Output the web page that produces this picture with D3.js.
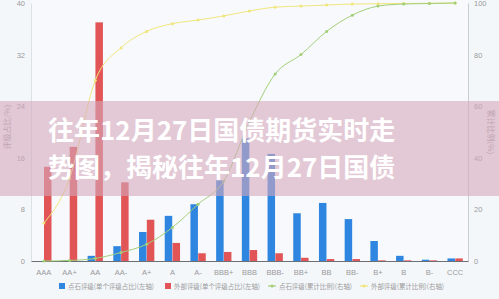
<!DOCTYPE html>
<html lang="zh">
<head>
<meta charset="UTF-8">
<title>评级分布</title>
<script src="https://d3js.org/d3.v7.min.js"></script>
<style>
  html, body { margin: 0; padding: 0; background: #f4f7fa; }
  svg { display: block; font-family: "Noto Sans CJK SC", "Noto Sans", sans-serif; }
  .tick text { fill: #9a9a9a; font-size: 7.5px; }
</style>
</head>
<body>
<svg id="chart" width="499" height="299"></svg>
<script>
// categories and series
const ratings = ["AAA","AA+","AA","AA-","A+","A","A-","BBB+","BBB","BBB-","BB+","BB","BB-","B+","B","B-","CCC"];
const dianshiShare = [0, 0.1, 0.8, 2.3, 4.5, 7, 8.8, 12.5, 19, 16.6, 7.4, 9, 6.5, 3.1, 0.8, 0.2, 0.4];
const externalShare = [14.6, 17.7, 37, 12.2, 6.4, 2.8, 1.2, 1.4, 1.7, 1.2, 0.5, 0.3, 0.3, 0.1, 0.1, 0.1, 0.4];
const dianshiCum = [0, 0.2, 1, 3.3, 6.5, 13, 22, 31, 54, 72.5, 80, 89, 95.3, 98.8, 99.6, 99.8, 100];
const externalCum = [14.7, 32, 70, 82.6, 89, 92, 93.4, 95, 96.9, 98.4, 98.8, 99.2, 99.6, 99.7, 99.8, 99.9, 100];
const leftTicks = [0, 8, 16, 24, 32, 40];
const rightTicks = [0, 20, 40, 60, 80, 100];
const legendItems = [
  { label: "点石评级(单个评级占比)(左轴)", color: "#2f86e0", type: "rect", w: 86 },
  { label: "外部评级(单个评级占比)(左轴)", color: "#e25557", type: "rect", w: 86 },
  { label: "点石评级(累计比例)(右轴)", color: "#a3cf78", type: "line", w: 73 },
  { label: "外部评级(累计比例)(右轴)", color: "#f1e67c", type: "line", w: 73 }
];
const titleLines = ["往年12月27日国债期货实时走", "势图，揭秘往年12月27日国债"];

const svg = d3.select("#chart");
const margin = { top: 3, right: 31, bottom: 38, left: 31 };
const W = 499, H = 299;
const x0 = margin.left, x1 = W - margin.right;
const yBottom = H - margin.bottom;

const x = d3.scaleBand().domain(ratings).range([x0, x1]).paddingInner(0.38).paddingOuter(0.19);
const xs = d3.scaleBand().domain(["d", "e"]).range([0, x.bandwidth()]).padding(0.04);
const yL = d3.scaleLinear().domain([0, 40]).range([yBottom, margin.top]);
const yR = d3.scaleLinear().domain([0, 100]).range([yBottom, margin.top]);

// plot background
svg.append("rect").attr("x", x0).attr("y", 0).attr("width", x1 - x0).attr("height", yBottom)
  .attr("fill", "#f7f9fc");

// axes
const gl = svg.append("g").attr("transform", `translate(${x0},0)`)
  .call(d3.axisLeft(yL).tickValues(leftTicks).tickSize(0).tickPadding(6));
gl.select(".domain").attr("stroke", "#dde1e6");
const gr = svg.append("g").attr("transform", `translate(${x1},0)`)
  .call(d3.axisRight(yR).tickValues(rightTicks).tickSize(0).tickPadding(6));
gr.select(".domain").attr("stroke", "#c9ced4");
const gb = svg.append("g").attr("transform", `translate(0,${yBottom})`)
  .call(d3.axisBottom(x).tickSize(0).tickPadding(9));
gb.select(".domain").attr("stroke", "#6c6f73").attr("stroke-width", 1.2);
gb.selectAll(".tick text").attr("font-size", "7.5px");

// axis titles
svg.append("text").attr("transform", "translate(10,127) rotate(-90)")
  .attr("text-anchor", "middle").attr("fill", "#a0a0a0").attr("font-size", 8).text("评级占比(%)");
svg.append("text").attr("transform", "translate(488,132) rotate(90)")
  .attr("text-anchor", "middle").attr("fill", "#a0a0a0").attr("font-size", 8).text("累计比例(%)");

// bars
const bars = svg.append("g");
bars.selectAll(".bd").data(ratings).enter().append("rect")
  .attr("x", d => x(d) + xs("d")).attr("width", xs.bandwidth())
  .attr("y", (d, i) => yL(dianshiShare[i])).attr("height", (d, i) => yBottom - yL(dianshiShare[i]))
  .attr("fill", legendItems[0].color);
bars.selectAll(".be").data(ratings).enter().append("rect")
  .attr("x", d => x(d) + xs("e")).attr("width", xs.bandwidth())
  .attr("y", (d, i) => yL(externalShare[i])).attr("height", (d, i) => yBottom - yL(externalShare[i]))
  .attr("fill", legendItems[1].color);

// cumulative lines
function drawLine(vals, color) {
  const pts = ratings.map((r, i) => [x(r) + x.bandwidth() / 2, yR(vals[i])]);
  svg.append("path").datum(pts)
    .attr("d", d3.line().curve(d3.curveMonotoneX))
    .attr("fill", "none").attr("stroke", color).attr("stroke-width", 1);
  svg.append("g").selectAll("circle").data(pts).enter().append("circle")
    .attr("cx", d => d[0]).attr("cy", d => d[1]).attr("r", 1.5).attr("fill", color);
}
drawLine(externalCum, legendItems[3].color);
drawLine(dianshiCum, legendItems[2].color);

// legend
const legendX = [59, 165, 268, 360];
const lg = svg.append("g").attr("transform", "translate(0,286)");
legendItems.forEach((it, i) => {
  const g = lg.append("g").attr("transform", `translate(${legendX[i]},0)`);
  if (it.type === "rect") {
    g.append("rect").attr("x", 0).attr("y", -3).attr("width", 6).attr("height", 6).attr("fill", it.color);
  } else {
    g.append("line").attr("x1", 0).attr("x2", 8).attr("y1", 0).attr("y2", 0)
      .attr("stroke", it.color).attr("stroke-width", 1.2);
    g.append("circle").attr("cx", 4).attr("cy", 0).attr("r", 1.6).attr("fill", it.color);
  }
  g.append("text").attr("x", it.type === "rect" ? 9 : 11).attr("y", 2.6)
    .attr("font-size", 7).attr("fill", "#9a9a9a")
    .attr("textLength", it.w).attr("lengthAdjust", "spacingAndGlyphs")
    .text(it.label);
});

// overlay banner with title
svg.append("rect").attr("x", 0).attr("y", 101).attr("width", W).attr("height", 95)
  .attr("fill", "rgb(214,168,188)").attr("opacity", 0.6);
svg.append("g").selectAll("text").data(titleLines).enter().append("text")
  .attr("x", 48).attr("y", (d, i) => 140 + i * 37)
  .attr("fill", "#ffffff").attr("font-size", 26).attr("font-weight", "bold")
  .text(d => d);
</script>
</body>
</html>
